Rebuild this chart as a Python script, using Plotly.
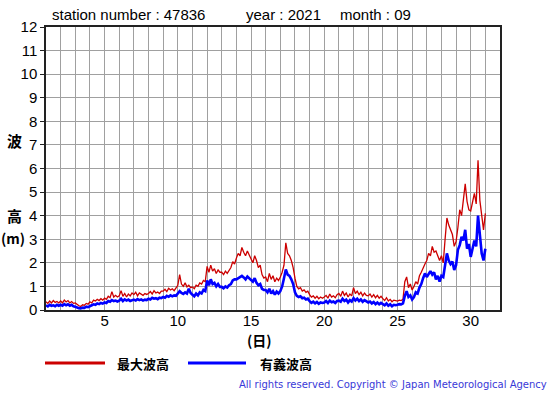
import plotly.graph_objects as go

# 3-hourly readings, day 1 00:00 .. day 31 00:00 (8 values per day)
max_wave = [
    0.35,0.28,0.38,0.30,0.40,0.32,0.36,0.30,   # 1
    0.38,0.30,0.42,0.34,0.40,0.30,0.36,0.28,   # 2
    0.30,0.22,0.18,0.15,0.22,0.20,0.28,0.25,   # 3
    0.35,0.30,0.42,0.38,0.45,0.40,0.48,0.42,   # 4
    0.50,0.45,0.58,0.52,0.78,0.55,0.62,0.55,   # 5
    0.60,0.82,0.58,0.70,0.55,0.68,0.60,0.72,   # 6
    0.65,0.75,0.60,0.72,0.68,0.62,0.70,0.66,   # 7
    0.70,0.78,0.68,0.82,0.72,0.76,0.70,0.80,   # 8
    0.80,0.88,0.78,0.92,0.85,0.90,0.82,0.95,   # 9
    1.05,1.50,1.10,1.00,1.15,0.98,1.05,0.95,   # 10
    0.98,0.90,1.05,1.00,1.15,1.10,1.25,1.20,   # 11
    1.85,1.60,1.90,1.65,1.75,1.55,1.70,1.60,   # 12
    1.60,1.50,1.65,1.55,1.70,1.80,2.05,1.95,   # 13
    2.20,2.40,2.30,2.65,2.45,2.30,2.50,2.35,   # 14
    2.20,2.00,2.30,2.10,1.80,1.90,1.50,1.35,   # 15
    1.40,1.20,1.55,1.30,1.45,1.20,1.35,1.25,   # 16
    1.40,1.60,1.90,2.85,2.40,2.30,2.10,1.80,   # 17
    1.35,1.00,0.90,0.95,0.80,0.85,0.75,0.80,   # 18
    0.65,0.55,0.60,0.50,0.58,0.48,0.55,0.50,   # 19
    0.55,0.62,0.50,0.68,0.55,0.60,0.52,0.65,   # 20
    0.70,0.58,0.80,0.62,0.72,0.55,0.68,0.60,   # 21
    0.95,0.70,0.80,0.65,0.75,0.60,0.72,0.62,   # 22
    0.60,0.68,0.55,0.65,0.52,0.62,0.50,0.58,   # 23
    0.48,0.40,0.52,0.38,0.45,0.35,0.42,0.40,   # 24
    0.38,0.42,0.40,0.45,1.20,1.40,0.95,1.10,   # 25
    0.85,1.00,1.20,1.10,1.45,1.60,1.80,1.95,   # 26
    2.10,2.40,2.30,2.70,2.45,2.50,2.30,2.10,   # 27
    2.30,2.00,3.00,3.90,3.60,3.40,3.20,2.70,   # 28
    2.90,3.50,4.25,4.00,4.65,5.35,4.60,4.25,   # 29
    4.20,4.60,4.95,4.50,6.35,4.65,3.90,3.40,   # 30
    4.10,                                      # 31 00:00
]

sig_wave = [
    0.20,0.15,0.22,0.18,0.20,0.16,0.22,0.18,   # 1
    0.22,0.18,0.25,0.20,0.24,0.18,0.22,0.16,   # 2
    0.14,0.10,0.08,0.07,0.10,0.09,0.14,0.12,   # 3
    0.18,0.20,0.24,0.22,0.28,0.25,0.30,0.27,   # 4
    0.32,0.30,0.38,0.35,0.42,0.38,0.40,0.36,   # 5
    0.40,0.48,0.38,0.45,0.40,0.44,0.38,0.42,   # 6
    0.44,0.40,0.46,0.42,0.45,0.40,0.44,0.42,   # 7
    0.48,0.45,0.52,0.48,0.50,0.46,0.52,0.50,   # 8
    0.55,0.52,0.60,0.56,0.62,0.58,0.62,0.60,   # 9
    0.70,0.80,0.72,0.68,0.75,0.70,0.90,0.72,   # 10
    0.65,0.58,0.70,0.62,0.75,0.70,0.85,0.80,   # 11
    1.25,1.05,1.30,1.10,1.15,1.00,1.10,0.98,   # 12
    0.98,0.92,1.00,0.95,1.05,1.10,1.25,1.30,   # 13
    1.30,1.35,1.40,1.45,1.38,1.30,1.42,1.35,   # 14
    1.30,1.20,1.35,1.15,1.05,1.10,0.90,0.85,   # 15
    0.85,0.75,0.90,0.70,0.80,0.65,0.78,0.70,   # 16
    0.80,1.00,1.35,1.72,1.50,1.45,1.30,1.10,   # 17
    0.75,0.60,0.55,0.58,0.50,0.52,0.45,0.48,   # 18
    0.38,0.30,0.35,0.28,0.34,0.26,0.32,0.30,   # 19
    0.32,0.38,0.30,0.40,0.33,0.36,0.30,0.38,   # 20
    0.40,0.35,0.48,0.38,0.44,0.32,0.42,0.36,   # 21
    0.50,0.40,0.48,0.38,0.45,0.35,0.42,0.38,   # 22
    0.32,0.36,0.28,0.34,0.25,0.32,0.24,0.30,   # 23
    0.25,0.20,0.28,0.18,0.24,0.16,0.22,0.20,   # 24
    0.22,0.25,0.24,0.28,0.60,0.80,0.55,0.62,   # 25
    0.45,0.55,0.75,0.70,0.95,1.10,1.35,1.55,   # 26
    1.40,1.55,1.65,1.50,1.60,1.30,1.45,1.20,   # 27
    1.45,1.40,1.95,2.40,2.10,1.95,2.05,1.70,   # 28
    1.90,2.55,2.75,3.10,2.95,3.40,2.60,2.80,   # 29
    2.25,2.60,2.95,2.70,4.00,3.20,2.40,2.10,   # 30
    2.60,                                      # 31 00:00
]

x_days = [1 + i / 8 for i in range(len(max_wave))]

x_tickvals = list(range(1, 33))
x_ticktext = [str(d) if d % 5 == 0 else "" for d in x_tickvals]
y_tickvals = list(range(0, 13))

title_parts = ["station number : 47836", "year : 2021", "month : 09"]
legend_names = ["最大波高", "有義波高"]
copyright_text = "All rights reserved. Copyright © Japan Meteorological Agency"

W, H = 555, 395
L, R, T, B = 46, 500, 27, 310   # plot area in window pixels


def px(x):
    return (x - L) / (R - L)


def py(y):
    return (B - y) / (B - T)


fig = go.Figure()
fig.add_trace(go.Scatter(x=x_days, y=max_wave, mode="lines",
                         line=dict(color="#cc0000", width=1.3), name=legend_names[0]))
fig.add_trace(go.Scatter(x=x_days, y=sig_wave, mode="lines",
                         line=dict(color="#0000ff", width=2.6), name=legend_names[1]))

fig.update_layout(
    width=W, height=H,
    margin=dict(l=L, r=W - R, t=T, b=H - B, pad=0),
    paper_bgcolor="white", plot_bgcolor="white",
    showlegend=False,
    font=dict(family="Liberation Sans, Arial, sans-serif", color="black"),
)
fig.update_xaxes(
    range=[1, 32], tickvals=x_tickvals, ticktext=x_ticktext,
    showgrid=True, gridcolor="#a0a0a0", gridwidth=1,
    showline=True, linecolor="#222", linewidth=1.5, mirror=True,
    ticks="", tickfont=dict(size=15, family="Liberation Sans"),
    ticklabelstandoff=-4,
    zeroline=False, fixedrange=True,
)
fig.update_yaxes(
    range=[0, 12], tickvals=y_tickvals,
    showgrid=True, gridcolor="#a0a0a0", gridwidth=1,
    showline=True, linecolor="#222", linewidth=1.5, mirror=True,
    ticks="outside", ticklen=4, tickcolor="#222",
    tickfont=dict(size=15, family="Liberation Sans"),
    zeroline=False, fixedrange=True,
)

ann = []
for text, x0 in zip(title_parts, [50, 244, 338]):
    ann.append(dict(text=text, x=px(x0), y=py(15), xref="paper", yref="paper",
                    xanchor="left", yanchor="middle", showarrow=False,
                    font=dict(size=15, family="Liberation Sans")))
cjk = "Noto Sans CJK JP"
for text, yy in [("波", 140), ("高", 215)]:
    ann.append(dict(text="<b>%s</b>" % text, x=px(14), y=py(yy), xref="paper", yref="paper",
                    xanchor="center", yanchor="middle", showarrow=False,
                    font=dict(size=15, family=cjk)))
ann.append(dict(text="<b>(m)</b>", x=px(13), y=py(238), xref="paper", yref="paper",
                xanchor="center", yanchor="middle", showarrow=False,
                font=dict(size=14, family=cjk)))
ann.append(dict(text="<b>(日)</b>", x=px(259), y=py(340), xref="paper", yref="paper",
                xanchor="center", yanchor="middle", showarrow=False,
                font=dict(size=14, family=cjk)))
ann.append(dict(text="<b>%s</b>" % legend_names[0], x=px(115), y=py(363), xref="paper", yref="paper",
                xanchor="left", yanchor="middle", showarrow=False,
                font=dict(size=13, family=cjk)))
ann.append(dict(text="<b>%s</b>" % legend_names[1], x=px(258), y=py(363), xref="paper", yref="paper",
                xanchor="left", yanchor="middle", showarrow=False,
                font=dict(size=13, family=cjk)))
ann.append(dict(text=copyright_text, x=px(549), y=py(384), xref="paper", yref="paper",
                xanchor="right", yanchor="middle", showarrow=False,
                font=dict(size=10, family="DejaVu Sans", color="#3838d8")))
fig.update_layout(annotations=ann)

fig.update_layout(shapes=[
    dict(type="line", xref="paper", yref="paper", x0=px(45), x1=px(105), y0=py(363), y1=py(363),
         line=dict(color="#cc0000", width=3)),
    dict(type="line", xref="paper", yref="paper", x0=px(188), x1=px(246), y0=py(363), y1=py(363),
         line=dict(color="#0000ff", width=3)),
])

fig.write_html("out.html", config={"displayModeBar": False},
               post_script="document.body.style.margin='0';document.body.style.overflow='hidden';")
